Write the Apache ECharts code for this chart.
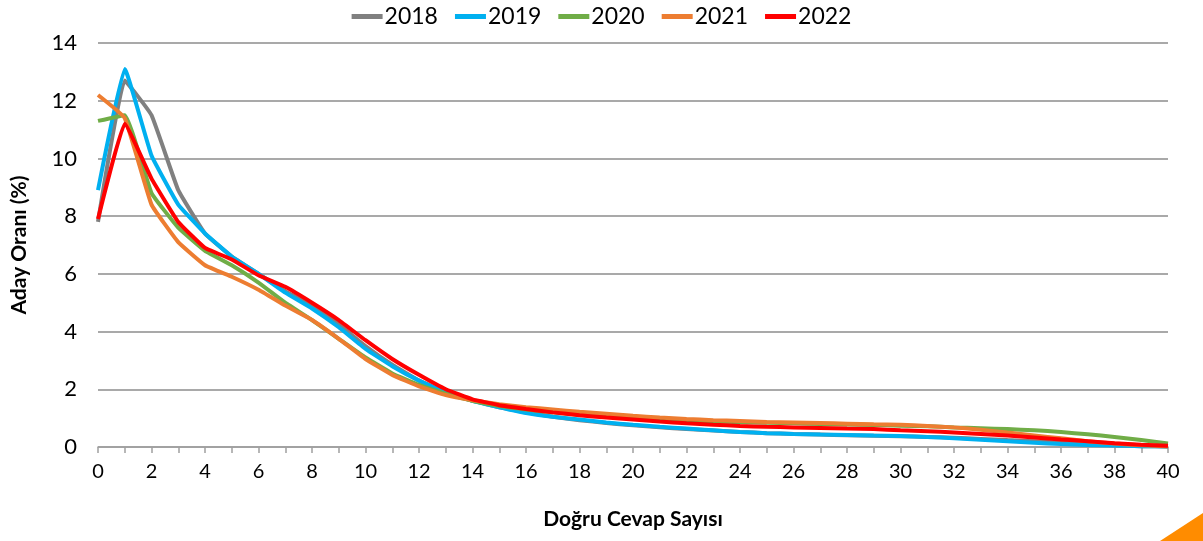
<!DOCTYPE html>
<html>
<head>
<meta charset="utf-8" />
<title>Doğru Cevap Sayısı</title>
<script src="https://cdn.jsdelivr.net/npm/echarts@6/dist/echarts.min.js"></script>
<style>
  html, body { margin: 0; padding: 0; background: #fff; }
  #chart { width: 1203px; height: 541px; }
</style>
</head>
<body>
<div id="chart"></div>
<script>
// x: number of correct answers 0..40
var dogruCevap = [];
for (var i = 0; i <= 40; i++) dogruCevap.push(String(i));

var yillar = ['2018', '2019', '2020', '2021', '2022'];
var renkler = ['#808080', '#00B0F0', '#70AD47', '#ED7D31', '#FF0000'];

var d2018 = [7.8, 12.7, 11.5, 8.9, 7.4, 6.6, 6.0, 5.4, 4.9, 4.25, 3.5, 2.85, 2.3, 1.9, 1.6, 1.38, 1.2, 1.05, 0.93, 0.83,
  0.75, 0.68, 0.62, 0.57, 0.52, 0.48, 0.45, 0.43, 0.41, 0.39, 0.37, 0.35, 0.32, 0.28, 0.24, 0.2, 0.15, 0.1, 0.06, 0.03, 0.02];
var d2019 = [8.9, 13.1, 10.1, 8.4, 7.4, 6.6, 6.0, 5.35, 4.8, 4.15, 3.4, 2.8, 2.3, 1.9, 1.6, 1.38, 1.18, 1.05, 0.95, 0.85,
  0.77, 0.7, 0.64, 0.58, 0.52, 0.48, 0.45, 0.43, 0.42, 0.4, 0.38, 0.35, 0.3, 0.25, 0.2, 0.15, 0.1, 0.07, 0.05, 0.03, 0.02];
var d2020 = [11.3, 11.5, 8.8, 7.6, 6.8, 6.3, 5.7, 5.0, 4.4, 3.75, 3.1, 2.55, 2.15, 1.85, 1.6, 1.42, 1.3, 1.2, 1.12, 1.05,
  1.0, 0.96, 0.92, 0.89, 0.86, 0.84, 0.82, 0.8, 0.78, 0.76, 0.74, 0.72, 0.68, 0.65, 0.62, 0.58, 0.52, 0.44, 0.35, 0.24, 0.12];
var d2021 = [12.2, 11.4, 8.4, 7.1, 6.3, 5.9, 5.45, 4.9, 4.4, 3.75, 3.05, 2.5, 2.1, 1.8, 1.62, 1.48, 1.38, 1.3, 1.22, 1.15,
  1.08, 1.02, 0.97, 0.93, 0.9, 0.87, 0.85, 0.83, 0.81, 0.79, 0.77, 0.73, 0.68, 0.6, 0.5, 0.4, 0.3, 0.2, 0.12, 0.06, 0.02];
var d2022 = [7.9, 11.2, 9.3, 7.8, 6.9, 6.5, 5.95, 5.55, 5.0, 4.4, 3.7, 3.05, 2.5, 2.0, 1.65, 1.45, 1.32, 1.2, 1.1, 1.02,
  0.95, 0.88, 0.82, 0.77, 0.73, 0.7, 0.68, 0.66, 0.64, 0.62, 0.58, 0.55, 0.5, 0.45, 0.4, 0.33, 0.26, 0.2, 0.13, 0.08, 0.04];

var veriler = [d2018, d2019, d2020, d2021, d2022];

var font = 'Lato, "Open Sans", sans-serif';

var series = [];
for (var k = 0; k < yillar.length; k++) {
  series.push({
    name: yillar[k],
    type: 'line',
    smooth: 0.1,
    showSymbol: false,
    data: veriler[k],
    lineStyle: { width: 4, color: renkler[k] },
    itemStyle: { color: renkler[k] }
  });
}

var chart = echarts.init(document.getElementById('chart'), null, { renderer: 'canvas' });
chart.setOption({
  animation: false,
  textStyle: { fontFamily: font },
  legend: {
    top: 0,
    left: 'center',
    icon: 'rect',
    itemWidth: 31,
    itemHeight: 5,
    itemGap: 17,
    textStyle: { fontSize: 23, color: '#000', fontFamily: font, padding: [0, 0, 0, -3] },
    data: yillar
  },
  grid: { left: 98, right: 35, top: 43, bottom: 94 },
  xAxis: {
    type: 'category',
    data: dogruCevap,
    boundaryGap: false,
    name: 'Doğru Cevap Sayısı',
    nameLocation: 'middle',
    nameGap: 62,
    nameTextStyle: { fontSize: 21, fontWeight: 'bold', color: '#000', fontFamily: font },
    axisLine: { lineStyle: { color: '#A0A0A0', width: 1.5 } },
    axisTick: { show: true, interval: 0, length: 6, lineStyle: { color: '#A0A0A0', width: 1.5 } },
    axisLabel: { interval: 1, fontSize: 20, color: '#000', margin: 15, fontFamily: font },
    splitLine: { show: false }
  },
  yAxis: {
    type: 'value',
    min: 0,
    max: 14,
    interval: 2,
    name: 'Aday Oranı (%)',
    nameLocation: 'middle',
    nameGap: 68,
    nameTextStyle: { fontSize: 21, fontWeight: 'bold', color: '#000', fontFamily: font },
    axisLine: { show: false },
    axisTick: { show: false },
    axisLabel: { fontSize: 22, color: '#000', margin: 21, fontFamily: font },
    splitLine: { lineStyle: { color: '#8C8C8C', width: 1.5 } }
  },
  graphic: [
    {
      type: 'polygon',
      shape: { points: [[1160, 541], [1203, 513], [1203, 541]] },
      style: { fill: '#FF8C00' }
    }
  ],
  series: series
});
</script>
</body>
</html>
